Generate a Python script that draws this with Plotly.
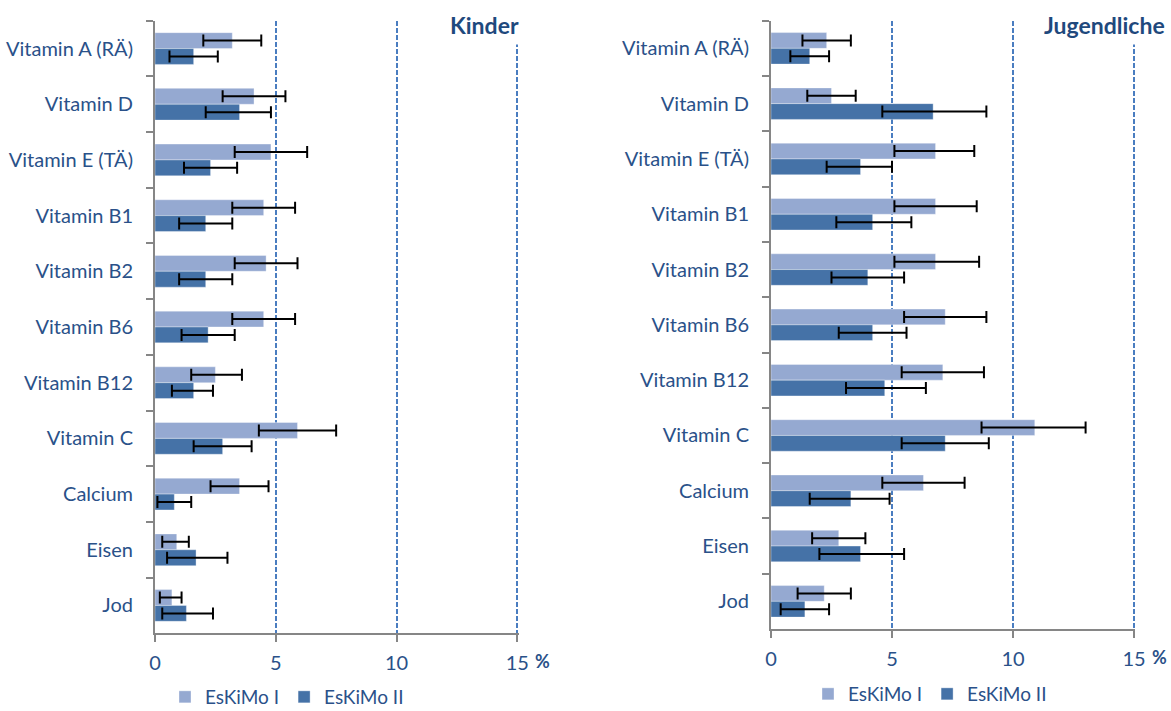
import plotly.graph_objects as go

# Nährstoffe (Kategorien, von oben nach unten)
categories = ["Vitamin A (RÄ)", "Vitamin D", "Vitamin E (TÄ)", "Vitamin B1", "Vitamin B2",
              "Vitamin B6", "Vitamin B12", "Vitamin C", "Calcium", "Eisen", "Jod"]

# Kinder – Anteil in %, mit unterer/oberer Grenze des Konfidenzintervalls
kinder_i = [3.2, 4.1, 4.8, 4.5, 4.6, 4.5, 2.5, 5.9, 3.5, 0.9, 0.7]
kinder_i_lo = [2.0, 2.8, 3.3, 3.2, 3.3, 3.2, 1.5, 4.3, 2.3, 0.3, 0.2]
kinder_i_hi = [4.4, 5.4, 6.3, 5.8, 5.9, 5.8, 3.6, 7.5, 4.7, 1.4, 1.1]
kinder_ii = [1.6, 3.5, 2.3, 2.1, 2.1, 2.2, 1.6, 2.8, 0.8, 1.7, 1.3]
kinder_ii_lo = [0.6, 2.1, 1.2, 1.0, 1.0, 1.1, 0.7, 1.6, 0.1, 0.5, 0.3]
kinder_ii_hi = [2.6, 4.8, 3.4, 3.2, 3.2, 3.3, 2.4, 4.0, 1.5, 3.0, 2.4]

# Jugendliche – Anteil in %, mit unterer/oberer Grenze des Konfidenzintervalls
jugend_i = [2.3, 2.5, 6.8, 6.8, 6.8, 7.2, 7.1, 10.9, 6.3, 2.8, 2.2]
jugend_i_lo = [1.3, 1.5, 5.1, 5.1, 5.1, 5.5, 5.4, 8.7, 4.6, 1.7, 1.1]
jugend_i_hi = [3.3, 3.5, 8.4, 8.5, 8.6, 8.9, 8.8, 13.0, 8.0, 3.9, 3.3]
jugend_ii = [1.6, 6.7, 3.7, 4.2, 4.0, 4.2, 4.7, 7.2, 3.3, 3.7, 1.4]
jugend_ii_lo = [0.8, 4.6, 2.3, 2.7, 2.5, 2.8, 3.1, 5.4, 1.6, 2.0, 0.4]
jugend_ii_hi = [2.4, 8.9, 5.0, 5.8, 5.5, 5.6, 6.4, 9.0, 4.9, 5.5, 2.4]

x_ticks = [0, 5, 10, 15]
x_max = 15.06  # a hair past 15 so the last dashed grid line is kept
series_names = ["EsKiMo I", "EsKiMo II"]
panel_titles = ["Kinder", "Jugendliche"]

W, H = 1171, 711
LIGHT = "#95A9D1"
DARK = "#4572A7"
TEXT = "#2A5189"
TITLE = "#1F497D"
AXIS = "#868686"
GRID = "#4A7DC0"
FONT = "Lato, 'Open Sans', sans-serif"


def px_x(p):
    return p / W


def px_y(p):
    return 1 - p / H


def bar(name, vals, lo, hi, color, xa, ya, legend):
    return go.Bar(
        name=name, orientation="h", y=categories, x=vals,
        marker=dict(color=color, line=dict(color="rgba(255,255,255,0.35)", width=1)),
        error_x=dict(type="data", symmetric=False,
                     array=[h - v for v, h in zip(vals, hi)],
                     arrayminus=[v - l for v, l in zip(vals, lo)],
                     color="black", thickness=2, width=6),
        xaxis=xa, yaxis=ya, legend=legend, hoverinfo="skip",
    )


fig = go.Figure()
fig.add_trace(bar(series_names[0], kinder_i, kinder_i_lo, kinder_i_hi, LIGHT, "x", "y", "legend"))
fig.add_trace(bar(series_names[1], kinder_ii, kinder_ii_lo, kinder_ii_hi, DARK, "x", "y", "legend"))
fig.add_trace(bar(series_names[0], jugend_i, jugend_i_lo, jugend_i_hi, LIGHT, "x2", "y2", "legend2"))
fig.add_trace(bar(series_names[1], jugend_ii, jugend_ii_lo, jugend_ii_hi, DARK, "x2", "y2", "legend2"))


def xaxis_cfg(left_px, zero_to_15_px, anchor):
    right_px = left_px + zero_to_15_px * x_max / 15
    return dict(
        domain=[px_x(left_px), px_x(right_px)], anchor=anchor, range=[0, x_max], tickvals=x_ticks,
        showgrid=True, gridcolor=GRID, griddash="5px,2px", gridwidth=1.5,
        zeroline=False, showline=True, linecolor=AXIS, linewidth=2,
        ticks="outside", ticklen=7, tickwidth=2, tickcolor=AXIS,
        tickfont=dict(size=20, color=TEXT, family=FONT), ticklabelstandoff=4,
        fixedrange=True,
    )


def yaxis_cfg(domain, anchor):
    return dict(
        domain=domain, anchor=anchor, type="category",
        categoryorder="array", categoryarray=categories, autorange="reversed",
        showgrid=False, zeroline=False, showline=True, linecolor=AXIS, linewidth=2,
        ticks="outside", tickson="boundaries", ticklen=7, tickwidth=2, tickcolor=AXIS,
        tickfont=dict(size=20, color=TEXT, family=FONT), ticklabelstandoff=16,
        fixedrange=True,
    )


legend_common = dict(orientation="h", xanchor="left", yanchor="middle",
                     font=dict(size=19, color=TEXT, family=FONT),
                     bgcolor="rgba(0,0,0,0)", itemclick=False, itemdoubleclick=False,
                     tracegroupgap=0)

fig.update_layout(
    width=W, height=H, margin=dict(l=0, r=0, t=0, b=0, autoexpand=False),
    paper_bgcolor="white", plot_bgcolor="white",
    font=dict(family=FONT, color=TEXT),
    barmode="group", bargap=0.43, bargroupgap=0,
    xaxis=xaxis_cfg(155, 362.3, "y"),
    yaxis=yaxis_cfg([px_y(633.3), px_y(20.7)], "x"),
    xaxis2=xaxis_cfg(771, 363, "y2"),
    yaxis2=yaxis_cfg([px_y(629), px_y(20.7)], "x2"),
    legend=dict(legend_common, x=px_x(165), y=px_y(697)),
    legend2=dict(legend_common, x=px_x(808), y=px_y(694)),
    showlegend=True,
)

# Panel titles (white box masks the grid line behind the text)
for title, xr, yc in [(panel_titles[0], 525, 25), (panel_titles[1], 1171, 25)]:
    fig.add_annotation(text=f"<b>{title}</b>", xref="paper", yref="paper",
                       x=px_x(xr), y=px_y(yc), xanchor="right", yanchor="middle",
                       showarrow=False, bgcolor="white", borderpad=5,
                       font=dict(size=23, color=TITLE, family=FONT))

# Unit label next to the last x tick
for xref, ybottom in [("x", px_y(633.3)), ("x2", px_y(629))]:
    fig.add_annotation(text="<b>%</b>", xref=xref, yref="paper", x=15, y=ybottom,
                       xshift=25, yshift=-28, xanchor="center", yanchor="middle",
                       showarrow=False, font=dict(size=18, color=TEXT, family=FONT))

fig.write_html("out.html")
